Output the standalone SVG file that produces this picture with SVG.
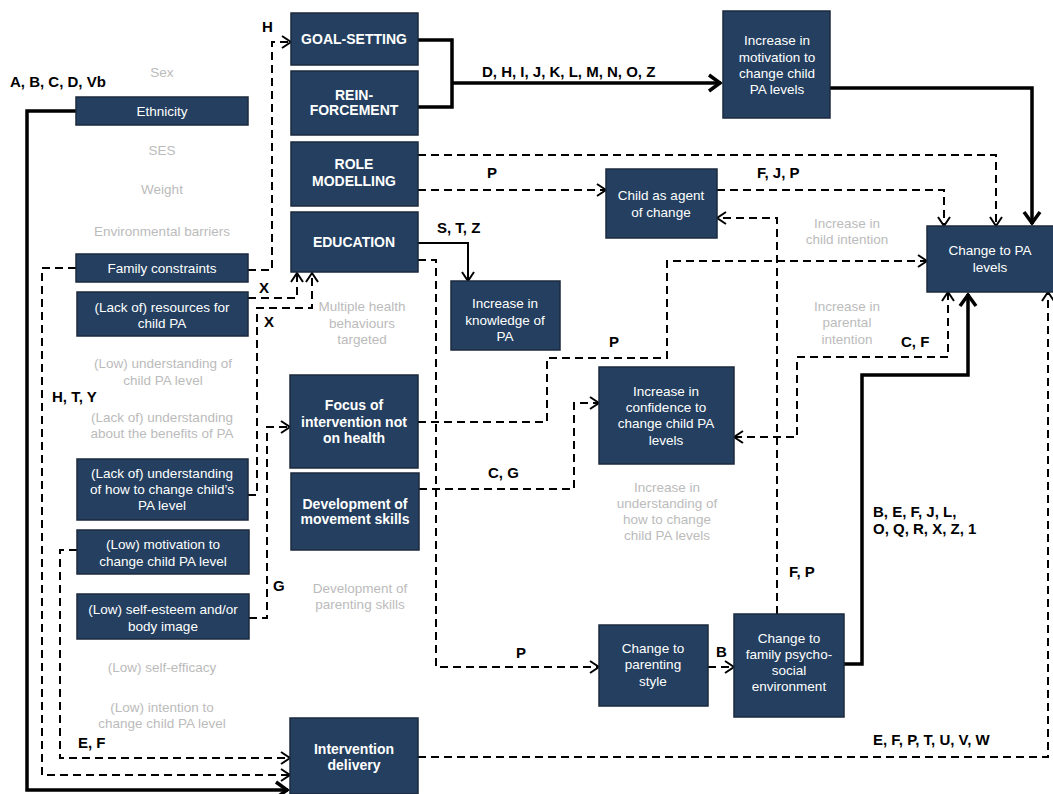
<svg xmlns="http://www.w3.org/2000/svg" width="1053" height="794" viewBox="0 0 1053 794">
<style>
.box{fill:#243F60;stroke:#1B2A3D;stroke-width:1.5}
.t{fill:#fff;font-family:"Liberation Sans",Arial,sans-serif;font-size:13.5px;text-anchor:middle}
.tb{fill:#fff;font-family:"Liberation Sans",Arial,sans-serif;font-size:14px;font-weight:bold;text-anchor:middle}
.g{fill:#BBBBBB;font-family:"Liberation Sans",Arial,sans-serif;font-size:13.5px;text-anchor:middle}
.l{fill:#000;font-family:"Liberation Sans",Arial,sans-serif;font-size:15px;font-weight:bold}
.d{fill:none;stroke:#000;stroke-width:2;stroke-dasharray:8 5}
.s{fill:none;stroke:#000;stroke-width:3.5}
.s2{fill:none;stroke:#000;stroke-width:2}
</style>
<defs>
<marker id="a" markerUnits="userSpaceOnUse" markerWidth="16" markerHeight="16" refX="12" refY="8" orient="auto-start-reverse"><path d="M3,2 L12,8 L3,14" fill="none" stroke="#000" stroke-width="2"/></marker>
<marker id="b" markerUnits="userSpaceOnUse" markerWidth="20" markerHeight="20" refX="16" refY="10" orient="auto"><path d="M4,2 L15,10 L4,18" fill="none" stroke="#000" stroke-width="3.5"/></marker>
</defs>
<rect width="1053" height="794" fill="#fff"/>

<g id="connectors">
<path class="s" d="M76,111 H27 V790 H288" marker-end="url(#b)"/>
<path class="d" d="M76,268 H42 V775 H290" marker-end="url(#a)"/>
<path class="d" d="M77,550 H60 V758 H290" marker-end="url(#a)"/>
<path class="d" d="M248,270 H272 V42 H291" marker-end="url(#a)"/>
<path class="d" d="M248,298 H297 V273" marker-end="url(#a)"/>
<path class="d" d="M248,495 H257 V308 H312 V273" marker-end="url(#a)"/>
<path class="d" d="M249,618 H267 V427 H290" marker-end="url(#a)"/>
<path class="s" d="M418,40 H452 V107 H418"/>
<path class="s" d="M452,83 H721" marker-end="url(#b)"/>
<path class="s" d="M830,88 H1032 V224" marker-end="url(#b)"/>
<path class="d" d="M418,155 H996 V226" marker-end="url(#a)"/>
<path class="d" d="M418,190 H606" marker-end="url(#a)"/>
<path class="d" d="M717,190 H944 V226" marker-end="url(#a)"/>
<path class="s2" d="M418,243 H468 V281" marker-end="url(#a)"/>
<path class="d" d="M418,260 H436 V667 H599" marker-end="url(#a)"/>
<path class="d" d="M418,422 H547 V358 H667 V261 H927" marker-end="url(#a)"/>
<path class="d" d="M419,489 H574 V403 H599" marker-end="url(#a)"/>
<path class="d" d="M777,614 V218 H717" marker-end="url(#a)"/>
<path class="d" d="M734,437 H797 V357 H948 V292" marker-start="url(#a)" marker-end="url(#a)"/>
<path class="s" d="M844,664 H862 V375 H968 V294" marker-end="url(#b)"/>
<path class="d" d="M708,667 H734" marker-end="url(#a)"/>
<path class="d" d="M418,757 H1048 V292" marker-end="url(#a)"/>
</g>

<g id="labels">
<text class="l" x="10" y="87">A, B, C, D, Vb</text>
<text class="l" x="262" y="32">H</text>
<text class="l" x="482" y="77">D, H, I, J, K, L, M, N, O, Z</text>
<text class="l" x="487" y="178">P</text>
<text class="l" x="437" y="233">S, T, Z</text>
<text class="l" x="757" y="178">F, J, P</text>
<text class="l" x="259" y="293">X</text>
<text class="l" x="264" y="327">X</text>
<text class="l" x="52" y="402">H, T, Y</text>
<text class="l" x="609" y="347">P</text>
<text class="l" x="901" y="347">C, F</text>
<text class="l" x="488" y="478">C, G</text>
<text class="l" x="273" y="591">G</text>
<text class="l" x="873" y="517">B, E, F, J, L,</text>
<text class="l" x="873" y="534">O, Q, R, X, Z, 1</text>
<text class="l" x="789" y="577">F, P</text>
<text class="l" x="516" y="658">P</text>
<text class="l" x="716" y="657">B</text>
<text class="l" x="78" y="748">E, F</text>
<text class="l" x="873" y="745">E, F, P, T, U, V, W</text>
</g>

<g id="gray-texts">
<text class="g" x="162" y="77">Sex</text>
<text class="g" x="162" y="155">SES</text>
<text class="g" x="162" y="194">Weight</text>
<text class="g" x="162" y="236">Environmental barriers</text>
<text class="g" x="163" y="368">(Low) understanding of</text>
<text class="g" x="163" y="385">child PA level</text>
<text class="g" x="162" y="422">(Lack of) understanding</text>
<text class="g" x="162" y="438">about the benefits of PA</text>
<text class="g" x="162" y="672">(Low) self-efficacy</text>
<text class="g" x="162" y="712">(Low) intention to</text>
<text class="g" x="162" y="728">change child PA level</text>
<text class="g" x="362" y="311">Multiple health</text>
<text class="g" x="362" y="328">behaviours</text>
<text class="g" x="362" y="344">targeted</text>
<text class="g" x="360" y="593">Development of</text>
<text class="g" x="360" y="609">parenting skills</text>
<text class="g" x="847" y="228">Increase in</text>
<text class="g" x="847" y="244">child intention</text>
<text class="g" x="847" y="311">Increase in</text>
<text class="g" x="847" y="327">parental</text>
<text class="g" x="847" y="344">intention</text>
<text class="g" x="667" y="492">Increase in</text>
<text class="g" x="667" y="508">understanding of</text>
<text class="g" x="667" y="524">how to change</text>
<text class="g" x="667" y="540">child PA levels</text>
</g>

<g id="ethnicity"><rect class="box" x="76" y="97" width="172" height="28"/><text class="t" x="162" y="116">Ethnicity</text></g>
<g id="family-constraints"><rect class="box" x="76" y="254" width="172" height="28"/><text class="t" x="162" y="273">Family constraints</text></g>
<g id="resources"><rect class="box" x="77" y="292" width="171" height="44"/><text class="t" x="162" y="312">(Lack of) resources for</text><text class="t" x="162" y="328">child PA</text></g>
<g id="understanding-how"><rect class="box" x="77" y="459" width="171" height="61"/><text class="t" x="162" y="478">(Lack of) understanding</text><text class="t" x="162" y="494">of how to change child’s</text><text class="t" x="162" y="510">PA level</text></g>
<g id="low-motivation"><rect class="box" x="77" y="530" width="172" height="44"/><text class="t" x="163" y="549">(Low) motivation to</text><text class="t" x="163" y="566">change child PA level</text></g>
<g id="self-esteem"><rect class="box" x="77" y="594" width="172" height="45"/><text class="t" x="163" y="614">(Low) self-esteem and/or</text><text class="t" x="163" y="631">body image</text></g>

<g id="goal-setting"><rect class="box" x="291" y="13" width="127" height="52"/><text class="tb" x="354" y="44">GOAL-SETTING</text></g>
<g id="reinforcement"><rect class="box" x="291" y="71" width="127" height="64"/><text class="tb" x="354" y="100">REIN-</text><text class="tb" x="354" y="115">FORCEMENT</text></g>
<g id="role-modelling"><rect class="box" x="291" y="142" width="127" height="64"/><text class="tb" x="354" y="169">ROLE</text><text class="tb" x="354" y="186">MODELLING</text></g>
<g id="education"><rect class="box" x="291" y="212" width="127" height="60"/><text class="tb" x="354" y="247">EDUCATION</text></g>
<g id="focus"><rect class="box" x="290" y="375" width="128" height="93"/><text class="tb" x="354" y="410">Focus of</text><text class="tb" x="354" y="427">intervention not</text><text class="tb" x="354" y="443">on health</text></g>
<g id="movement-skills"><rect class="box" x="291" y="473" width="128" height="77"/><text class="tb" x="355" y="509">Development of</text><text class="tb" x="355" y="524">movement skills</text></g>
<g id="intervention-delivery"><rect class="box" x="290" y="718" width="128" height="76"/><text class="tb" x="354" y="754">Intervention</text><text class="tb" x="354" y="770">delivery</text></g>

<g id="knowledge"><rect class="box" x="451" y="281" width="109" height="69"/><text class="t" x="505" y="308">Increase in</text><text class="t" x="505" y="325">knowledge of</text><text class="t" x="505" y="341">PA</text></g>
<g id="motivation"><rect class="box" x="723" y="11" width="107" height="107"/><text class="t" x="777" y="45">Increase in</text><text class="t" x="777" y="62">motivation to</text><text class="t" x="777" y="78">change child</text><text class="t" x="777" y="94">PA levels</text></g>
<g id="child-agent"><rect class="box" x="606" y="169" width="111" height="69"/><text class="t" x="661" y="200">Child as agent</text><text class="t" x="661" y="217">of change</text></g>
<g id="change-pa"><rect class="box" x="927" y="226" width="128" height="66"/><text class="t" x="990" y="255">Change to PA</text><text class="t" x="990" y="272">levels</text></g>
<g id="confidence"><rect class="box" x="599" y="367" width="135" height="97"/><text class="t" x="666" y="396">Increase in</text><text class="t" x="666" y="412">confidence to</text><text class="t" x="666" y="428">change child PA</text><text class="t" x="666" y="445">levels</text></g>
<g id="parenting-style"><rect class="box" x="599" y="625" width="109" height="81"/><text class="t" x="653" y="653">Change to</text><text class="t" x="653" y="669">parenting</text><text class="t" x="653" y="686">style</text></g>
<g id="family-env"><rect class="box" x="734" y="614" width="110" height="103"/><text class="t" x="789" y="643">Change to</text><text class="t" x="789" y="659">family psycho-</text><text class="t" x="789" y="675">social</text><text class="t" x="789" y="691">environment</text></g>
</svg>
